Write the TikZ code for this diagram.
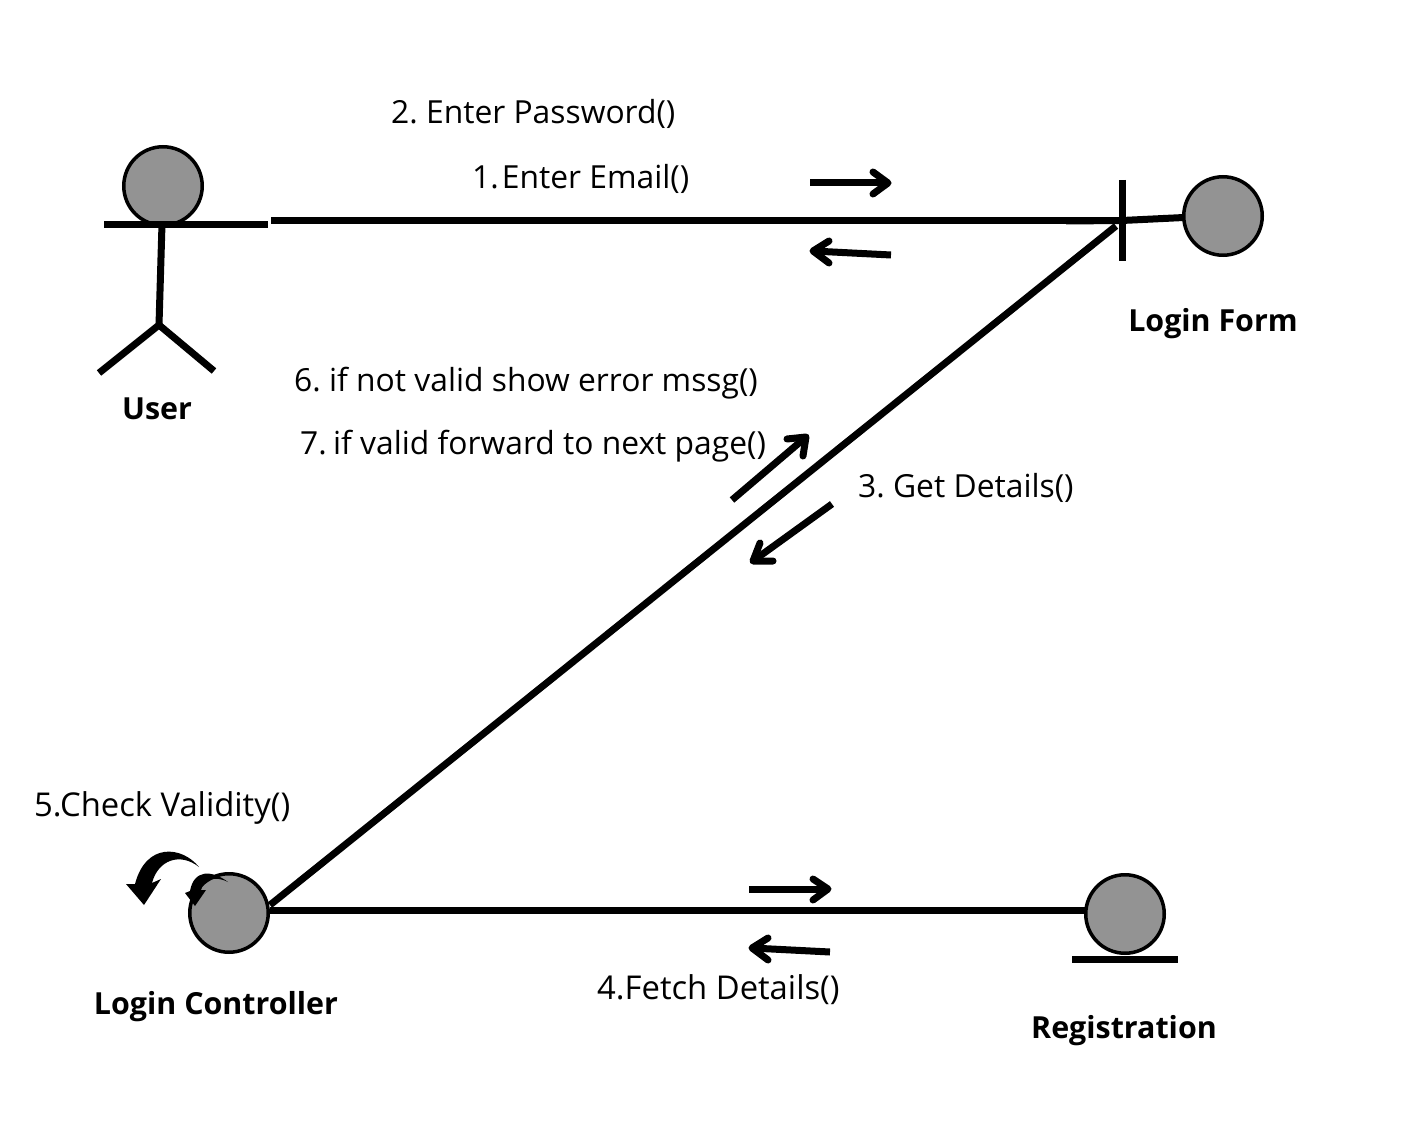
\documentclass[tikz,border=0pt]{standalone}
\usepackage{fontspec}
\setmainfont{Open Sans}
\definecolor{cor_gray}{HTML}{939393}
\frenchspacing
\begin{document}
\begin{tikzpicture}[x=1pt,y=-1pt]
        \tikzset{
            obj/.style={
                draw=black,
                fill=cor_gray,
                circle,
                line width=3.5pt,
                inner sep=0pt,
                minimum size=78.5pt
            },
            rotulo/.style={
                font=\fontsize{31.8}{36}\selectfont,
                inner sep=0pt,
                text=black
            },
            rotulomaior/.style={
                font=\fontsize{32.8}{36}\selectfont,
                inner sep=0pt,
                text=black
            },
            nome/.style={
                font=\fontsize{30.4}{36}\selectfont\bfseries,
                inner sep=0pt,
                text=black
            },
            linha/.style={
                black,
                line width=7pt
            },
            seta/.style={
                black,
                line width=7pt,
                line cap=round,
                line join=round
            }
        }
        \useasboundingbox (0,0) rectangle (1414,1139);
        \fill[white] (0,0) rectangle (1414,1139);

        %objetos
        \node[obj] (user) at (163,186) {};
        \node[obj] (form) at (1223,216) {};
        \node[obj] (ctrl) at (229,913) {};
        \node[obj] (reg) at (1125,914) {};

        %boneco
        \coordinate (armL) at (104,224.5);
        \coordinate (armR) at (268,224.5);
        \coordinate (neck) at (162,224);
        \coordinate (hip) at (159,325);
        \coordinate (footL) at (99,373);
        \coordinate (footR) at (214,371);
        \draw[linha] (armL) -- (armR);
        \draw[linha] (neck) -- (hip);
        \draw[linha] (footL) -- (hip) -- (footR);

        %ligacoes
        \coordinate (userEnd) at (271,220.5);
        \coordinate (barTop) at (1122,180);
        \coordinate (barBot) at (1122,261);
        \coordinate (barL) at (1066,221);
        \coordinate (barR) at (1122,220.5);
        \coordinate (formL) at (1184,217.5);
        \coordinate (formIn) at (1116,226);
        \coordinate (ctrlOut) at (270,905);
        \coordinate (ctrlR) at (270,910);
        \coordinate (regL) at (1086,910);
        \coordinate (regBarL) at (1072,959);
        \coordinate (regBarR) at (1178,959);
        \draw[linha] (userEnd) -- (barR);
        \draw[linha] (barL) -- (barR);
        \draw[linha] (barTop) -- (barBot);
        \draw[linha] (barR) -- (formL);
        \draw[linha] (formIn) -- (ctrlOut);
        \draw[linha] (ctrlR) -- (regL);
        \draw[linha] (regBarL) -- (regBarR);

        %setas
        \draw[linha] (810,183) -- (888,183);
        \draw[seta] (873,172) -- (888,183) -- (873,194);
        \draw[linha] (891,255) -- (813,251);
        \draw[seta] (829,241) -- (813,251) -- (829,263);
        \draw[linha] (732,500) -- (806,437);
        \draw[seta] (787,439) -- (806,437) -- (803,456);
        \draw[linha] (832,504) -- (753,561);
        \draw[seta] (760,543) -- (753,561) -- (773,561);
        \draw[linha] (749,889) -- (828,889);
        \draw[seta] (813,879) -- (828,889) -- (813,900);
        \draw[linha] (830,952) -- (752,948);
        \draw[seta] (768,938) -- (752,948) -- (768,960);

        %auto chamada
        \fill (199,867) .. controls (182,846) and (146,842) .. (135,884)
            -- (126,884) -- (144,905) -- (161,879) -- (152,883)
            .. controls (158,860) and (180,852) .. (199,867) -- cycle;
        \fill (228,882) .. controls (212,870) and (194,869) .. (190,891)
            -- (185,893) -- (195,906) -- (206,890) -- (201,890)
            .. controls (204,880) and (214,875) .. (228,882) -- cycle;

        %textos
        \node[rotulo,anchor=base west] (m2) at (391,124) {2. Enter Password()};
        \node[rotulo,anchor=base west] (m1) at (472,189) {1.\kern3pt Enter Email()};
        \node[rotulo,anchor=base west] (m6) at (294,392) {6. if not valid show error mssg()};
        \node[rotulo,anchor=base west] (m7) at (300,454) {7.\kern-2pt\ if valid forward to next page()};
        \node[rotulo,anchor=base west] (m3) at (858,497) {3. Get Details()};
        \node[rotulomaior,anchor=base west] (m5) at (34,816) {5.Check Validity()};
        \node[rotulomaior,anchor=base west] (m4) at (597,999) {4.Fetch Details()};

        \node[nome,anchor=base] (nUser) at (157,420) {User};
        \node[nome,anchor=base] (nForm) at (1213,332) {Login Form};
        \node[nome,anchor=base] (nCtrl) at (216,1014) {Login Controller};
        \node[nome,anchor=base] (nReg) at (1124,1038) {Registration};
\end{tikzpicture}
\end{document}
